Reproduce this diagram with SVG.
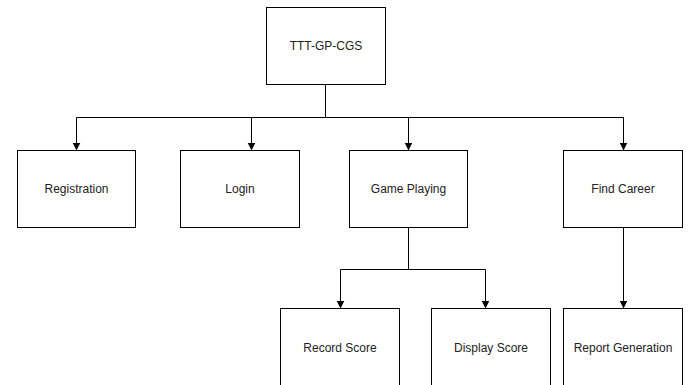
<svg xmlns="http://www.w3.org/2000/svg" width="688" height="385" viewBox="0 0 688 385">
  <defs>
    <marker id="arrow" viewBox="0 0 10 10" refX="10" refY="5" markerWidth="8" markerHeight="10" markerUnits="userSpaceOnUse" orient="auto">
      <path d="M0,0 L10,5 L0,10 z" fill="#000"/>
    </marker>
  </defs>
  <style>
    .box { fill: #fff; stroke: #000; stroke-width: 1; }
    .lbl { font-family: "Liberation Sans", Arial, sans-serif; font-size: 12px; fill: #222; text-anchor: middle; }
    .edge { fill: none; stroke: #000; stroke-width: 1; }
  </style>
  <rect width="688" height="385" fill="#fff"/>

  <g id="connectors">
    <path class="edge" d="M325.5,84.5 V117.5"/>
    <path class="edge" d="M76.5,117.5 H623.5"/>
    <path class="edge" d="M76.5,117.5 V150.5" marker-end="url(#arrow)"/>
    <path class="edge" d="M251.5,117.5 V150.5" marker-end="url(#arrow)"/>
    <path class="edge" d="M408.5,117.5 V150.5" marker-end="url(#arrow)"/>
    <path class="edge" d="M623.5,117.5 V150.5" marker-end="url(#arrow)"/>
    <path class="edge" d="M408.5,227.5 V269.5"/>
    <path class="edge" d="M340.5,269.5 H485.5"/>
    <path class="edge" d="M340.5,269.5 V308.5" marker-end="url(#arrow)"/>
    <path class="edge" d="M485.5,269.5 V308.5" marker-end="url(#arrow)"/>
    <path class="edge" d="M623.5,227.5 V308.5" marker-end="url(#arrow)"/>
  </g>

  <g id="root">
    <rect class="box" x="266.5" y="7.5" width="119" height="77"/>
    <text class="lbl" x="326" y="50">TTT-GP-CGS</text>
  </g>
  <g id="registration">
    <rect class="box" x="17.5" y="150.5" width="118" height="77"/>
    <text class="lbl" x="76.5" y="193">Registration</text>
  </g>
  <g id="login">
    <rect class="box" x="180.5" y="150.5" width="119" height="77"/>
    <text class="lbl" x="240" y="193">Login</text>
  </g>
  <g id="game-playing">
    <rect class="box" x="349.5" y="150.5" width="118" height="77"/>
    <text class="lbl" x="408.5" y="193">Game Playing</text>
  </g>
  <g id="find-career">
    <rect class="box" x="563.5" y="150.5" width="119" height="77"/>
    <text class="lbl" x="623" y="193">Find Career</text>
  </g>
  <g id="record-score">
    <rect class="box" x="280.5" y="308.5" width="119" height="77"/>
    <text class="lbl" x="340" y="352">Record Score</text>
  </g>
  <g id="display-score">
    <rect class="box" x="431.5" y="308.5" width="119" height="77"/>
    <text class="lbl" x="491" y="352">Display Score</text>
  </g>
  <g id="report-generation">
    <rect class="box" x="563.5" y="308.5" width="119" height="77"/>
    <text class="lbl" x="623" y="352">Report Generation</text>
  </g>
</svg>
